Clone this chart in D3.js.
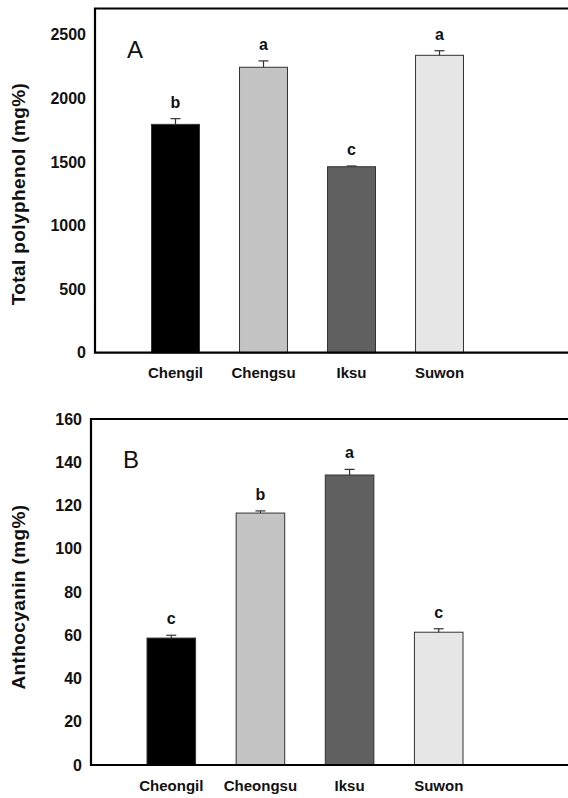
<!DOCTYPE html>
<html>
<head>
<meta charset="utf-8">
<script src="https://cdn.jsdelivr.net/npm/d3@7"></script>
<style>
  body { margin: 0; background: #fff; }
  svg { display: block; font-family: "Liberation Sans", Arial, sans-serif; }
</style>
</head>
<body>
<div id="chart"></div>
<script>
// panel A - total polyphenol
var catsA = ['Chengil', 'Chengsu', 'Iksu', 'Suwon'];
var valuesA = [1795, 2244, 1462, 2338];
var errorsA = [45, 50, 6, 36];
var lettersA = ['b', 'a', 'c', 'a'];
var ticksA = [0, 500, 1000, 1500, 2000, 2500];

// panel B - anthocyanin
var catsB = ['Cheongil', 'Cheongsu', 'Iksu', 'Suwon'];
var valuesB = [58.7, 116.5, 134.1, 61.4];
var errorsB = [1.3, 1.0, 2.6, 1.6];
var lettersB = ['c', 'b', 'a', 'c'];
var ticksB = [0, 20, 40, 60, 80, 100, 120, 140, 160];

var barColors = ['#000000', '#c4c4c4', '#606060', '#e6e6e6'];

var svg = d3.select('#chart')
  .append('svg')
  .attr('width', 568)
  .attr('height', 798);

function drawPanel(p) {
  var g = svg.append('g');

  var y = d3.scaleLinear()
    .domain([0, p.yMax])
    .range([p.bottom, p.top]);

  var x = d3.scaleBand()
    .domain(p.cats)
    .range([p.barStart, p.barEnd])
    .paddingInner(0.455)
    .paddingOuter(0);

  // y axis, no tick marks
  var yAxis = g.append('g')
    .attr('transform', 'translate(' + p.left + ',0)')
    .call(d3.axisLeft(y).tickValues(p.ticks).tickSize(0).tickPadding(9).tickFormat(d3.format('d')));
  yAxis.select('.domain').remove();
  yAxis.selectAll('text')
    .attr('font-size', 16)
    .attr('font-weight', 'bold')
    .attr('font-family', '"Liberation Sans", Arial, sans-serif')
    .attr('fill', '#111');

  var xAxis = g.append('g')
    .attr('transform', 'translate(0,' + p.bottom + ')')
    .call(d3.axisBottom(x).tickSize(0).tickPadding(15));
  xAxis.select('.domain').remove();
  xAxis.selectAll('text')
    .attr('font-size', 15)
    .attr('font-weight', 'bold')
    .attr('font-family', '"Liberation Sans", Arial, sans-serif')
    .attr('fill', '#111');

  // bars
  g.selectAll('.bar')
    .data(p.values)
    .enter()
    .append('rect')
    .attr('class', 'bar')
    .attr('x', function(d, i) { return x(p.cats[i]); })
    .attr('y', function(d) { return y(d); })
    .attr('width', x.bandwidth())
    .attr('height', function(d) { return p.bottom - y(d); })
    .attr('fill', function(d, i) { return barColors[i]; })
    .attr('stroke', '#333')
    .attr('stroke-width', 1);

  // error bars (upper half only)
  var err = g.selectAll('.err')
    .data(p.values)
    .enter()
    .append('g')
    .attr('class', 'err');
  err.append('line')
    .attr('x1', function(d, i) { return x(p.cats[i]) + x.bandwidth() / 2; })
    .attr('x2', function(d, i) { return x(p.cats[i]) + x.bandwidth() / 2; })
    .attr('y1', function(d) { return y(d); })
    .attr('y2', function(d, i) { return y(d + p.errors[i]); })
    .attr('stroke', '#333')
    .attr('stroke-width', 1.2);
  err.append('line')
    .attr('x1', function(d, i) { return x(p.cats[i]) + x.bandwidth() / 2 - 5; })
    .attr('x2', function(d, i) { return x(p.cats[i]) + x.bandwidth() / 2 + 5; })
    .attr('y1', function(d, i) { return y(d + p.errors[i]); })
    .attr('y2', function(d, i) { return y(d + p.errors[i]); })
    .attr('stroke', '#333')
    .attr('stroke-width', 1.2);

  // significance letters
  g.selectAll('.letter')
    .data(p.values)
    .enter()
    .append('text')
    .attr('class', 'letter')
    .attr('x', function(d, i) { return x(p.cats[i]) + x.bandwidth() / 2; })
    .attr('y', function(d, i) { return y(d + p.errors[i]) - 11; })
    .attr('text-anchor', 'middle')
    .attr('font-size', 16)
    .attr('font-weight', 'bold')
    .attr('fill', '#111')
    .text(function(d, i) { return p.letters[i]; });

  // frame: left, top, bottom (runs off the right edge)
  g.append('path')
    .attr('d', 'M580,' + p.top + 'H' + p.left + 'V' + p.bottom + 'H580')
    .attr('fill', 'none')
    .attr('stroke', '#000')
    .attr('stroke-width', 2.2);

  g.append('text')
    .attr('x', p.panelX)
    .attr('y', p.panelY)
    .attr('font-size', 24)
    .attr('fill', '#111')
    .text(p.panel);

  g.append('text')
    .attr('transform', 'translate(' + p.titleX + ',' + p.titleY + ') rotate(-90)')
    .attr('text-anchor', 'middle')
    .attr('font-size', 19)
    .attr('font-weight', 'bold')
    .attr('letter-spacing', 0.4)
    .attr('fill', '#111')
    .text(p.title);
}

drawPanel({
  cats: catsA, values: valuesA, errors: errorsA, letters: lettersA, ticks: ticksA,
  yMax: 2706, top: 8.5, bottom: 352.7, left: 95,
  barStart: 151.5, barEnd: 463.5,
  panel: 'A', panelX: 127, panelY: 58,
  title: 'Total polyphenol (mg%)', titleX: 25, titleY: 194
});

drawPanel({
  cats: catsB, values: valuesB, errors: errorsB, letters: lettersB, ticks: ticksB,
  yMax: 160, top: 419, bottom: 765, left: 91,
  barStart: 147, barEnd: 463,
  panel: 'B', panelX: 123, panelY: 468,
  title: 'Anthocyanin (mg%)', titleX: 25, titleY: 597
});
</script>
</body>
</html>
